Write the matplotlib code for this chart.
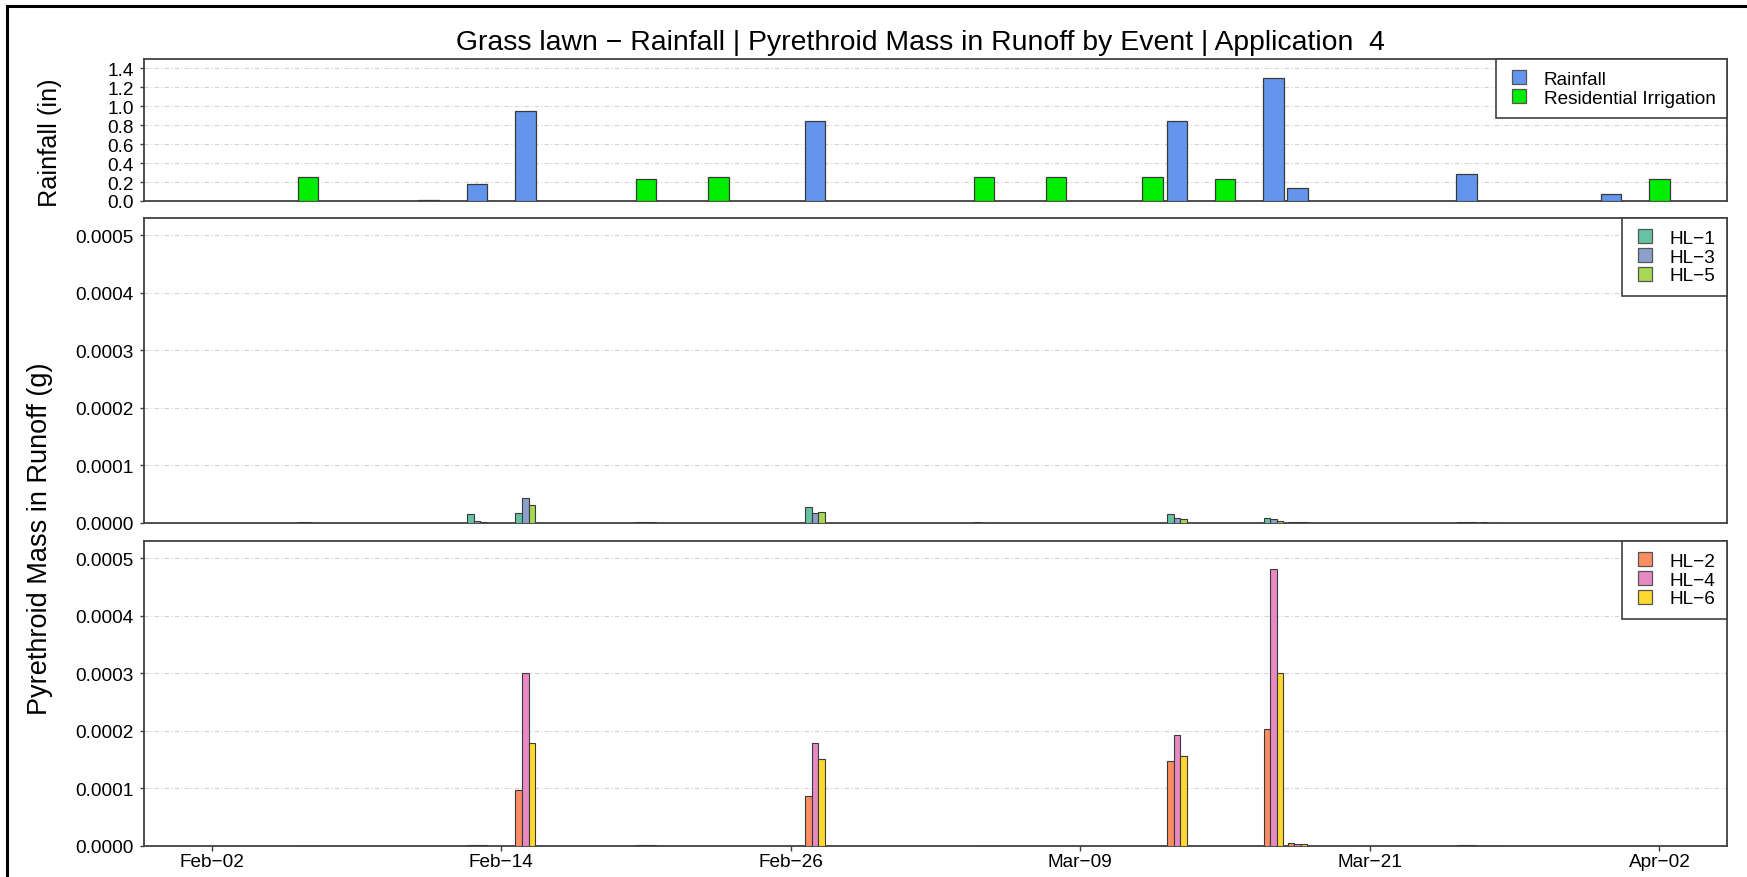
import datetime as dt

import matplotlib
matplotlib.use("Agg")
import matplotlib.pyplot as plt
import matplotlib.dates as mdates
from matplotlib.lines import Line2D

plt.rcParams["font.family"] = ["Liberation Sans", "DejaVu Sans"]

YEAR = 2024

# Daily water inputs (inches)
rain_dates = ["02-11", "02-13", "02-15", "02-27", "03-13", "03-17", "03-18", "03-25", "03-31"]
rain_in = [0.01, 0.18, 0.95, 0.85, 0.85, 1.30, 0.14, 0.28, 0.07]
irr_dates = ["02-06", "02-20", "02-23", "03-05", "03-08", "03-12", "03-15", "04-02"]
irr_in = [0.25, 0.23, 0.25, 0.25, 0.25, 0.25, 0.23, 0.23]

# Pyrethroid mass in runoff per event (g)
event_dates = ["02-06", "02-13", "02-15", "02-20", "02-27", "03-05",
               "03-13", "03-17", "03-18", "03-25", "03-26"]
hl1 = [2.0e-6, 1.53e-5, 1.70e-5, 1.0e-6, 2.84e-5, 1.0e-6, 1.53e-5, 9.1e-6, 1.0e-6, 1.0e-6, 1.0e-6]
hl3 = [1.0e-6, 3.4e-6, 4.43e-5, 1.0e-6, 1.70e-5, 8.0e-7, 9.1e-6, 6.3e-6, 1.0e-6, 1.0e-6, 0.0]
hl5 = [5.0e-7, 1.0e-6, 3.13e-5, 1.0e-6, 1.88e-5, 5.0e-7, 7.4e-6, 4.0e-6, 1.0e-6, 1.0e-6, 0.0]
hl2 = [0.0, 1.0e-6, 9.7e-5, 8.0e-7, 8.7e-5, 0.0, 1.47e-4, 2.02e-4, 4.0e-6, 1.0e-6, 0.0]
hl4 = [0.0, 1.0e-6, 3.00e-4, 8.0e-7, 1.78e-4, 0.0, 1.92e-4, 4.81e-4, 3.0e-6, 1.0e-6, 0.0]
hl6 = [0.0, 5.0e-7, 1.79e-4, 5.0e-7, 1.50e-4, 0.0, 1.55e-4, 3.01e-4, 2.0e-6, 5.0e-7, 0.0]

tick_dates = ["02-02", "02-14", "02-26", "03-09", "03-21", "04-02"]
tick_labels = ["Feb\u221202", "Feb\u221214", "Feb\u221226", "Mar\u221209", "Mar\u221221", "Apr\u221202"]

rain_ticks = [0.0, 0.2, 0.4, 0.6, 0.8, 1.0, 1.2, 1.4]
mass_ticks = [0.0, 0.0001, 0.0002, 0.0003, 0.0004, 0.0005]


def dnum(md):
    m, d = (int(v) for v in md.split("-"))
    return mdates.date2num(dt.date(YEAR, m, d))


W, H = 1747, 878
fig = plt.figure(figsize=(W / 100, H / 100), dpi=100)


def add_panel(top_px, bottom_px):
    left, right = 144, 1727
    return fig.add_axes([left / W, 1 - bottom_px / H, (right - left) / W, (bottom_px - top_px) / H])


ax1 = add_panel(60, 202)
ax2 = add_panel(219, 524)
ax3 = add_panel(542, 846.5)

x0 = dnum("02-02") - 2.8
x1 = dnum("04-02") + 2.8
edge = "#3a3a3a"
spine_col = "#404040"
grid_kw = dict(color="#d4d4d4", linestyle=(0, (4, 2, 1, 2)), linewidth=0.8)
fs = 13.7

# Rainfall / irrigation panel
ax1.bar([dnum(d) for d in rain_dates], rain_in, width=0.85, color="#6495ED",
        edgecolor=edge, linewidth=0.9, zorder=3)
ax1.bar([dnum(d) for d in irr_dates], irr_in, width=0.85, color="#00EE00",
        edgecolor=edge, linewidth=0.9, zorder=3)
ax1.set_ylim(0, 1.5)
ax1.set_yticks(rain_ticks)
ax1.set_yticklabels([f"{v:.1f}" for v in rain_ticks])

# Runoff panels: three sites per event, side by side
bw = 0.27
xs = [dnum(d) for d in event_dates]
for ax, series, colors in (
    (ax2, (hl1, hl3, hl5), ("#66C2A5", "#8DA0CB", "#A6D854")),
    (ax3, (hl2, hl4, hl6), ("#FC8D62", "#E78AC3", "#FFD92F")),
):
    for k, (vals, c) in enumerate(zip(series, colors)):
        ax.bar([x + (k - 1) * bw for x in xs], vals, width=bw, color=c,
               edgecolor=edge, linewidth=0.8, zorder=3)
    ax.set_ylim(0, 0.00053)
    ax.set_yticks(mass_ticks)
    ax.set_yticklabels([f"{v:.4f}" for v in mass_ticks])

for ax in (ax1, ax2, ax3):
    ax.set_xlim(x0, x1)
    ax.yaxis.grid(True, **grid_kw)
    ax.set_axisbelow(True)
    for s in ax.spines.values():
        s.set_color(spine_col)
        s.set_linewidth(1.3)
    ax.tick_params(axis="y", direction="out", length=3.2, width=1, color=spine_col,
                   labelsize=fs, pad=4)
    ax.tick_params(axis="x", bottom=False, labelbottom=False)

ax3.set_xticks([dnum(d) for d in tick_dates])
ax3.set_xticklabels(tick_labels)
ax3.tick_params(axis="x", bottom=True, labelbottom=True, direction="out", length=3.6,
                width=1, color=spine_col, labelsize=fs, pad=1.5)


def sq_handles(colors, labels):
    return [Line2D([], [], linestyle="none", marker="s", markersize=9.6,
                   markerfacecolor=c, markeredgecolor="#555555", markeredgewidth=0.9,
                   label=l)
            for c, l in zip(colors, labels)]


leg_kw = dict(loc="upper right", borderaxespad=0, fancybox=False, framealpha=1,
              edgecolor="#404040", fontsize=fs, handlelength=1.3,
              handletextpad=0.63, labelspacing=0.08, borderpad=0.6)
for ax, cols, labs in (
    (ax1, ("#6495ED", "#00EE00"), ("Rainfall", "Residential Irrigation")),
    (ax2, ("#66C2A5", "#8DA0CB", "#A6D854"), ("HL\u22121", "HL\u22123", "HL\u22125")),
    (ax3, ("#FC8D62", "#E78AC3", "#FFD92F"), ("HL\u22122", "HL\u22124", "HL\u22126")),
):
    lg = ax.legend(handles=sq_handles(cols, labs), **leg_kw)
    lg.get_frame().set_linewidth(1.2)
    lg.set_zorder(10)

fig.text(920 / W, 1 - 50 / H,
         "Grass lawn \u2212 Rainfall | Pyrethroid Mass in Runoff by Event | Application  4",
         ha="center", va="baseline", fontsize=20.4)
fig.text(50 / W, 1 - 143 / H, "Rainfall (in)", rotation=90, ha="center", va="center",
         fontsize=18.2)
fig.text(40.5 / W, 1 - 539 / H, "Pyrethroid Mass in Runoff (g)", rotation=90,
         ha="center", va="center", fontsize=19.5)

# outer frame (top and left edges)
fig.add_artist(Line2D([7 / W, 7 / W], [0, 1 - 7 / H], color="black", linewidth=2.2))
fig.add_artist(Line2D([7 / W, 1], [1 - 7 / H, 1 - 7 / H], color="black", linewidth=2.2))

fig.savefig("out.png", dpi=100)
